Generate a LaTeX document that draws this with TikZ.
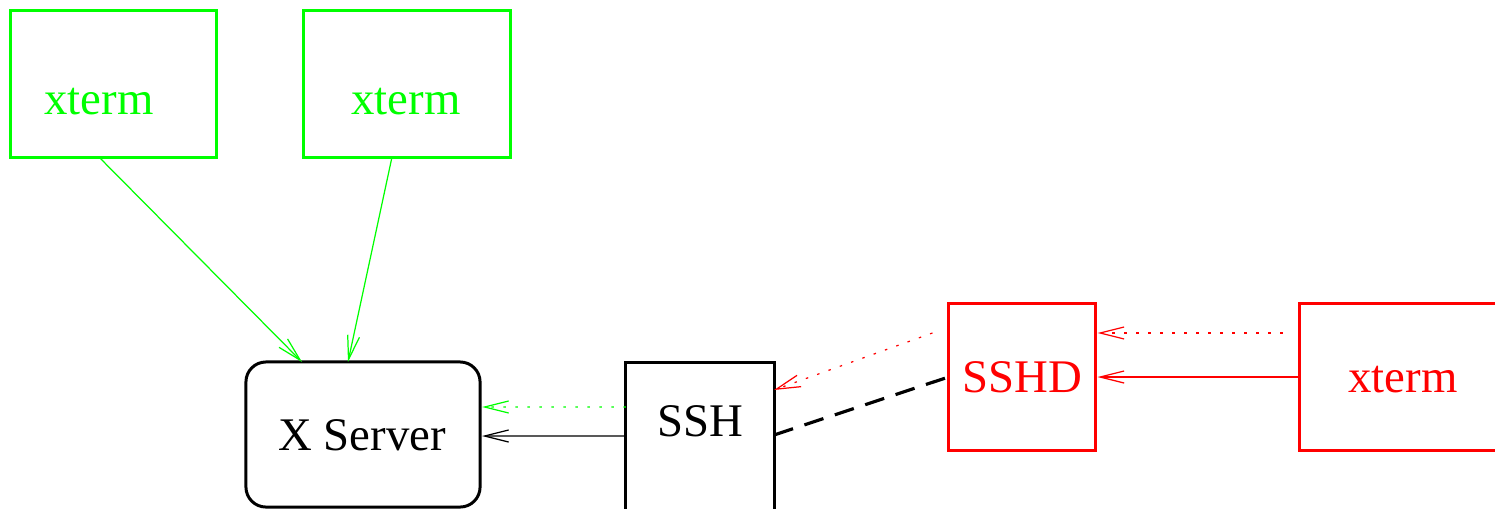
\documentclass[tikz,border=0pt]{standalone}
\usepackage{fontspec}
\setmainfont{Liberation Serif}
\usetikzlibrary{arrows.meta}
\definecolor{xgreen}{RGB}{0,255,0}
\definecolor{xred}{RGB}{255,0,0}
\tikzset{
  boxnode/.style={draw, line width=0.85pt, rectangle, inner sep=0pt, outer sep=0pt},
  lbl/.style={anchor=base, inner sep=0pt, font=\fontsize{13.3}{15}\selectfont},
  conn/.style={line width=0.35pt, -{Straight Barb[length=2.4mm, width=1.2mm]}},
  dotline/.style={dash pattern=on 0.025cm off 0.095cm},
}
\begin{document}
\begin{tikzpicture}[x=0.01cm, y=-0.01cm]
\useasboundingbox (0,0) rectangle (1495,508);

% local clients
\node[boxnode, xgreen, minimum width=2.05cm, minimum height=1.46cm] (g1) at (113.5,84) {};
\node[boxnode, xgreen, minimum width=2.06cm, minimum height=1.46cm] (g2) at (407,84) {};
\node[lbl, text=xgreen] (g1t) at (99,114) {xterm};
\node[lbl, text=xgreen] (g2t) at (406,114) {xterm};

% display server and ssh client
\node[boxnode, rounded corners=0.2cm, minimum width=2.34cm, minimum height=1.45cm] (xsrv) at (363,434.5) {};
\node[lbl] (xsrvt) at (362,450) {X Server};
\node[boxnode, minimum width=1.48cm, minimum height=1.54cm] (ssh) at (700,440) {};
\node[lbl] (ssht) at (700,436) {SSH};

% remote side
\node[boxnode, xred, minimum width=1.47cm, minimum height=1.46cm] (sshd) at (1022,377) {};
\node[lbl, text=xred] (sshdt) at (1022,392) {SSHD};
\node[boxnode, xred, minimum width=2.1cm, minimum height=1.46cm] (rx) at (1405,377) {};
\node[lbl, text=xred] (rxt) at (1403,392) {xterm};

% connections
\draw[conn, xgreen] ([xshift=-0.145cm]g1.south) -- ([xshift=-0.61cm]xsrv.north);
\draw[conn, xgreen] ([xshift=-0.15cm]g2.south) -- ([xshift=-0.15cm]xsrv.north);
\draw[conn, xgreen, dotline] ([yshift=0.33cm]ssh.west) -- ([xshift=0.02cm, yshift=0.275cm]xsrv.east);
\draw[conn] ([yshift=0.04cm]ssh.west) -- ([xshift=0.02cm, yshift=-0.015cm]xsrv.east);
\draw[line width=0.9pt, dash pattern=on 0.2cm off 0.12cm] ([yshift=0.05cm]ssh.east) -- (sshd.west);
\draw[conn, xred, dotline] ([xshift=-0.16cm, yshift=0.44cm]sshd.west) -- ([yshift=0.5cm]ssh.east);
\draw[conn, xred, dotline] ([xshift=-0.17cm, yshift=0.44cm]rx.west) -- ([xshift=0.02cm, yshift=0.44cm]sshd.east);
\draw[conn, xred] (rx.west) -- ([xshift=0.02cm]sshd.east);
\end{tikzpicture}
\end{document}
